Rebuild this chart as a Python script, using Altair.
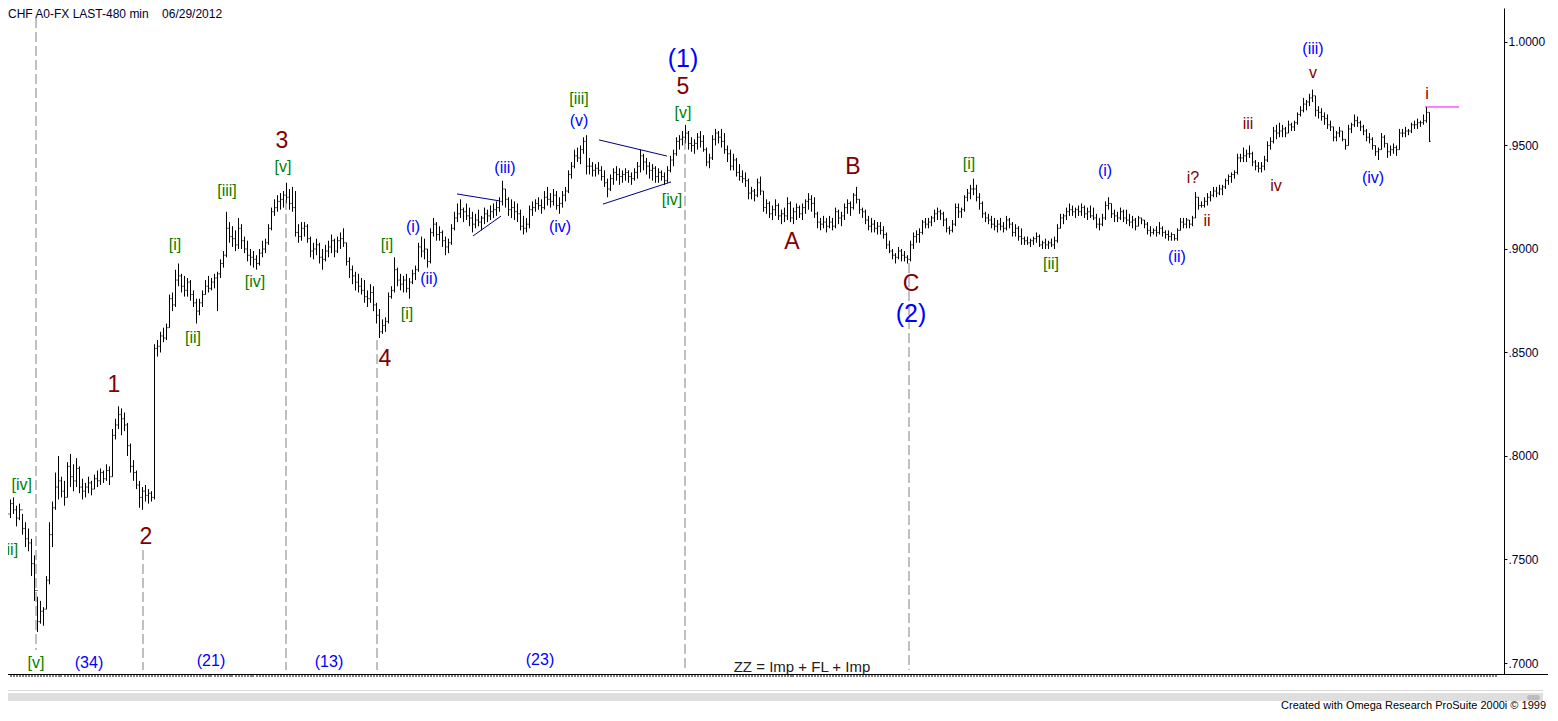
import altair as alt
import pandas as pd

# ---------------- data (prices in pips, 1 pip = 0.0001) ----------------
FIRST_OPEN = 7780
HI = [
    7830, 7810, 7790, 7800, 7760, 7770, 7720, 7680, 7650, 7600,
    7520, 7320, 7300, 7270, 7420, 7680, 7780, 7920, 8000, 7900,
    7880, 7970, 8010, 7960, 7990, 7950, 7890, 7870, 7900, 7880,
    7910, 7930, 7940, 7930, 7960, 7950, 8130, 8180, 8240, 8230,
    8210, 8160, 8060, 7980, 7930, 7880, 7850, 7860, 7840, 7830,
    8540, 8560, 8600, 8620, 8640, 8780, 8790, 8900, 8930, 8880,
    8870, 8860, 8850, 8800, 8760, 8760, 8800, 8850, 8870, 8860,
    8880, 8890, 8950, 8990, 9180, 9130, 9110, 9090, 9150, 9120,
    9060, 9040, 9000, 8990, 8970, 9000, 9040, 9050, 9120, 9200,
    9240, 9260, 9270, 9280, 9320, 9290, 9300, 9280, 9120, 9130,
    9130, 9120, 9060, 9030, 9050, 9030, 9000, 9020, 9040, 9070,
    9050, 9060, 9080, 9100, 9030, 8960, 8920, 8890, 8880, 8860,
    8850, 8800, 8830, 8820, 8740, 8710, 8660, 8670, 8790, 8820,
    8960, 8910, 8880, 8870, 8880, 8860, 8900, 8920, 9030, 9060,
    9050, 9000, 9100, 9150, 9130, 9110, 9090, 9060, 9050, 9120,
    9180, 9220, 9240, 9200, 9220, 9200, 9180, 9170, 9190, 9160,
    9200, 9190, 9210, 9220, 9230, 9250, 9330, 9290, 9250, 9240,
    9230, 9220, 9190, 9160, 9150, 9210, 9230, 9240, 9250, 9240,
    9280, 9300, 9270, 9290, 9280, 9250, 9280, 9300, 9380, 9420,
    9480, 9490, 9500, 9540, 9550, 9440, 9420, 9410, 9420, 9400,
    9380, 9340, 9360, 9390, 9400, 9390, 9380, 9390, 9380, 9370,
    9390, 9420, 9480, 9460, 9440, 9420, 9410, 9400, 9390, 9380,
    9370, 9400, 9450, 9480, 9540, 9550, 9570, 9600, 9570, 9540,
    9530, 9560, 9570, 9550, 9490, 9460, 9550, 9580, 9570, 9580,
    9560, 9500, 9480, 9460, 9440, 9410, 9380, 9370, 9340, 9300,
    9290, 9340, 9350, 9280, 9240, 9230, 9210, 9240, 9220, 9190,
    9200, 9250, 9230, 9200, 9220, 9210, 9220, 9240, 9270, 9260,
    9250, 9180, 9150, 9160, 9150, 9160, 9150, 9200, 9190, 9180,
    9220, 9240, 9230, 9270, 9300, 9240, 9200, 9190, 9160, 9150,
    9140, 9130, 9130, 9110, 9080, 9040, 9000, 8980, 9010, 9000,
    8990, 8970, 9040, 9080, 9090, 9100, 9140, 9150, 9150, 9160,
    9190, 9200, 9190, 9180, 9150, 9110, 9140, 9220, 9220, 9200,
    9260, 9290, 9310, 9340, 9310, 9270, 9230, 9180, 9170, 9160,
    9150, 9140, 9150, 9130, 9160, 9150, 9130, 9120, 9110, 9100,
    9060, 9060, 9050, 9060, 9080, 9070, 9040, 9050, 9040, 9050,
    9060, 9120, 9170, 9170, 9200, 9220, 9210, 9200, 9210, 9220,
    9210, 9200, 9210, 9200, 9170, 9150, 9170, 9230, 9250, 9220,
    9190, 9180, 9200, 9190, 9190, 9170, 9160, 9150, 9160, 9150,
    9140, 9130, 9110, 9100, 9110, 9130, 9110, 9090, 9090, 9080,
    9070, 9100, 9150, 9150, 9150, 9140, 9160, 9275, 9250, 9230,
    9250, 9270, 9280, 9300, 9300, 9310, 9310, 9340, 9360, 9370,
    9380, 9460, 9460, 9490, 9480, 9500, 9470, 9430, 9420, 9420,
    9450, 9520, 9540, 9590, 9600, 9610, 9600, 9590, 9620, 9610,
    9620, 9660, 9690, 9730, 9720, 9750, 9770, 9740, 9690, 9680,
    9660, 9650, 9620, 9590, 9570, 9590, 9570, 9530, 9600, 9610,
    9650, 9640, 9620, 9600, 9580, 9560, 9540, 9500, 9490, 9560,
    9550, 9510, 9500, 9510, 9500, 9580, 9580, 9590, 9580, 9610,
    9620, 9630, 9620, 9650, 9686, 9660,
]
LO = [
    7700, 7690, 7700, 7720, 7660, 7690, 7620, 7560, 7540, 7420,
    7300, 7150, 7190, 7180, 7260, 7380, 7560, 7740, 7790, 7800,
    7760, 7800, 7850, 7830, 7850, 7820, 7790, 7800, 7820, 7810,
    7840, 7850, 7860, 7870, 7880, 7860, 7900, 8080, 8130, 8100,
    8120, 8000, 7920, 7880, 7840, 7750, 7740, 7780, 7770, 7780,
    7790, 8480, 8500, 8550, 8560, 8620, 8700, 8720, 8820, 8790,
    8770, 8770, 8750, 8720, 8640, 8680, 8720, 8780, 8790, 8800,
    8810, 8700, 8860, 8910, 8960, 9030, 9010, 8990, 9000, 9000,
    8980, 8940, 8920, 8910, 8900, 8920, 8960, 8980, 9020, 9090,
    9160, 9180, 9190, 9200, 9220, 9190, 9180, 9060, 9030, 9040,
    9060, 9030, 8960, 8950, 8970, 8930, 8900, 8940, 8960, 8980,
    8960, 8980, 9000, 9010, 8920, 8860, 8830, 8800, 8790, 8780,
    8740, 8720, 8740, 8700, 8640, 8570, 8590, 8600, 8640, 8760,
    8790, 8820, 8800, 8790, 8790, 8760, 8830, 8850, 8890, 8960,
    8950, 8910, 8930, 9060, 9040, 9040, 9010, 8970, 8980, 9020,
    9090, 9130, 9150, 9130, 9140, 9110, 9080, 9100, 9110, 9090,
    9120, 9130, 9140, 9150, 9160, 9180, 9210, 9200, 9160, 9150,
    9140, 9130, 9090, 9070, 9080, 9100, 9160, 9180, 9190, 9170,
    9190, 9210, 9200, 9210, 9190, 9170, 9200, 9230, 9270, 9340,
    9390, 9420, 9410, 9460, 9360, 9360, 9350, 9350, 9360, 9330,
    9300, 9250, 9280, 9310, 9330, 9310, 9320, 9330, 9320, 9310,
    9330, 9340, 9370, 9380, 9360, 9340, 9330, 9320, 9320, 9330,
    9310, 9320, 9370, 9400, 9450, 9480, 9500, 9510, 9480, 9470,
    9460, 9480, 9490, 9470, 9400, 9390, 9430, 9500, 9510, 9490,
    9460, 9420, 9380, 9380, 9350, 9330, 9320, 9300, 9240, 9240,
    9230, 9250, 9260, 9180, 9170, 9150, 9140, 9160, 9140, 9120,
    9130, 9140, 9130, 9120, 9140, 9150, 9140, 9170, 9190, 9180,
    9150, 9100, 9090, 9100, 9080, 9100, 9090, 9100, 9120, 9110,
    9140, 9170, 9160, 9190, 9220, 9170, 9150, 9120, 9090, 9080,
    9080, 9070, 9070, 9050, 9000, 8980, 8950, 8930, 8950, 8940,
    8940, 8930, 8940, 9000, 9030, 9030, 9070, 9100, 9100, 9110,
    9130, 9140, 9140, 9110, 9080, 9070, 9080, 9110, 9150, 9150,
    9180, 9230, 9240, 9260, 9230, 9190, 9150, 9130, 9120, 9100,
    9090, 9080, 9090, 9080, 9090, 9100, 9060, 9060, 9040, 9020,
    9020, 9020, 9010, 9020, 9030, 9010, 9000, 9000, 9000, 9010,
    9000, 9030, 9100, 9120, 9140, 9160, 9160, 9150, 9160, 9160,
    9150, 9140, 9150, 9140, 9100, 9090, 9110, 9140, 9190, 9150,
    9130, 9130, 9140, 9130, 9120, 9110, 9100, 9090, 9110, 9120,
    9100, 9070, 9060, 9070, 9060, 9070, 9060, 9050, 9040, 9040,
    9040, 9040, 9090, 9100, 9100, 9100, 9110, 9150, 9190, 9200,
    9200, 9210, 9230, 9250, 9250, 9260, 9260, 9290, 9310, 9320,
    9340, 9360, 9420, 9420, 9420, 9440, 9400, 9380, 9370, 9370,
    9380, 9420, 9480, 9510, 9530, 9540, 9540, 9540, 9560, 9570,
    9570, 9600, 9640, 9660, 9670, 9690, 9710, 9640, 9630, 9620,
    9600, 9580, 9570, 9520, 9520, 9540, 9520, 9480, 9500, 9560,
    9590, 9590, 9570, 9550, 9520, 9510, 9480, 9450, 9430, 9480,
    9490, 9440, 9450, 9460, 9450, 9480, 9540, 9540, 9550, 9560,
    9580, 9580, 9590, 9600, 9610, 9517,
]
CL = [
    7760, 7720, 7770, 7740, 7700, 7740, 7650, 7600, 7580, 7480,
    7350, 7200, 7250, 7260, 7400, 7620, 7750, 7850, 7880, 7830,
    7800, 7950, 7900, 7880, 7940, 7850, 7830, 7850, 7870, 7840,
    7890, 7880, 7920, 7890, 7930, 7900, 8100, 8150, 8200, 8180,
    8150, 8050, 7950, 7920, 7860, 7800, 7830, 7810, 7820, 7800,
    8520, 8530, 8580, 8570, 8620, 8760, 8730, 8850, 8870, 8820,
    8800, 8840, 8780, 8740, 8700, 8740, 8780, 8820, 8810, 8840,
    8860, 8880, 8930, 8970, 9100, 9060, 9050, 9020, 9100, 9040,
    9000, 8970, 8960, 8950, 8930, 8980, 9000, 9030, 9100, 9180,
    9200, 9230, 9240, 9260, 9250, 9220, 9200, 9080, 9060, 9100,
    9110, 9050, 8990, 9000, 9020, 8960, 8950, 8990, 9010, 9040,
    8990, 9040, 9050, 9030, 8940, 8900, 8870, 8840, 8820, 8800,
    8770, 8760, 8790, 8730, 8680, 8600, 8630, 8650, 8770, 8800,
    8900, 8850, 8830, 8850, 8810, 8840, 8880, 8900, 9010, 8990,
    9000, 8940, 9080, 9120, 9070, 9080, 9040, 9010, 9030, 9100,
    9150, 9170, 9190, 9180, 9160, 9150, 9120, 9140, 9130, 9150,
    9170, 9160, 9180, 9190, 9200, 9230, 9290, 9240, 9190, 9200,
    9180, 9170, 9110, 9100, 9120, 9190, 9200, 9220, 9210, 9200,
    9250, 9240, 9230, 9260, 9210, 9220, 9260, 9280, 9360, 9400,
    9450, 9440, 9480, 9520, 9400, 9400, 9380, 9390, 9380, 9350,
    9320, 9290, 9340, 9370, 9360, 9350, 9360, 9370, 9350, 9340,
    9370, 9400, 9450, 9420, 9400, 9380, 9390, 9350, 9370, 9350,
    9330, 9380, 9430, 9460, 9520, 9530, 9540, 9560, 9510, 9500,
    9510, 9540, 9520, 9480, 9420, 9440, 9530, 9560, 9540, 9520,
    9480, 9460, 9400, 9430, 9370, 9350, 9340, 9330, 9270, 9280,
    9260, 9320, 9280, 9200, 9220, 9170, 9190, 9210, 9160, 9170,
    9160, 9220, 9150, 9180, 9200, 9170, 9200, 9230, 9240, 9220,
    9170, 9130, 9120, 9130, 9110, 9130, 9110, 9180, 9150, 9160,
    9200, 9220, 9200, 9260, 9240, 9190, 9180, 9140, 9110, 9120,
    9100, 9110, 9090, 9070, 9020, 8990, 8970, 8960, 8990, 8970,
    8960, 8950, 9020, 9060, 9070, 9080, 9130, 9120, 9130, 9150,
    9170, 9180, 9170, 9140, 9100, 9090, 9120, 9200, 9180, 9190,
    9250, 9270, 9290, 9290, 9250, 9220, 9170, 9150, 9140, 9120,
    9110, 9120, 9110, 9100, 9140, 9120, 9080, 9100, 9060, 9050,
    9040, 9030, 9040, 9050, 9060, 9020, 9030, 9020, 9030, 9020,
    9040, 9100, 9150, 9160, 9180, 9190, 9180, 9190, 9180, 9200,
    9170, 9180, 9160, 9150, 9120, 9120, 9150, 9210, 9220, 9170,
    9160, 9150, 9180, 9150, 9140, 9130, 9140, 9110, 9150, 9140,
    9120, 9090, 9080, 9090, 9080, 9100, 9080, 9070, 9060, 9070,
    9050, 9090, 9130, 9120, 9140, 9120, 9150, 9250, 9210, 9210,
    9230, 9250, 9260, 9280, 9270, 9290, 9300, 9330, 9350, 9360,
    9370, 9440, 9440, 9450, 9460, 9460, 9420, 9400, 9390, 9400,
    9430, 9500, 9520, 9570, 9560, 9570, 9580, 9560, 9600, 9590,
    9610, 9650, 9670, 9700, 9710, 9730, 9740, 9670, 9660, 9640,
    9630, 9600, 9590, 9540, 9560, 9570, 9530, 9500, 9580, 9600,
    9620, 9610, 9590, 9570, 9540, 9530, 9500, 9470, 9480, 9540,
    9510, 9470, 9480, 9490, 9480, 9560, 9560, 9570, 9570, 9600,
    9600, 9610, 9610, 9620, 9660, 9520,
]

AXIS_TICKS = [0.70, 0.75, 0.80, 0.85, 0.90, 0.95, 1.00]

# wave labels: text, bar position, price, style group
LABEL_TEXT = ["[iv]", "ii]", "[v]", "[i]", "[ii]", "[iii]", "[iv]", "[v]", "[i]", "[i]",
              "[iii]", "[v]", "[iv]", "[i]", "[ii]",
              "(34)", "(21)", "(13)", "(23)", "(i)", "(ii)", "(iii)", "(iv)", "(v)",
              "(i)", "(ii)", "(iii)", "(iv)",
              "(1)", "(2)",
              "1", "2", "3", "4", "5", "A", "B", "C",
              "i?", "ii", "iii", "iv", "v", "i"]
LABEL_BAR = [5.73, 2.6, 10.5, 56.83, 62.83, 74.17, 83.5, 92.83, 127.5, 134.17,
             191.5, 226.17, 222.5, 321.5, 348.83,
             28.17, 68.83, 108.17, 178.5, 136.17, 141.5, 166.83, 185.17, 191.5,
             366.83, 390.83, 436.17, 456.17,
             226.17, 302.17,
             36.5, 47.17, 92.5, 126.83, 226.17, 262.5, 282.83, 302.17,
             396.17, 400.83, 414.5, 423.83, 436.17, 474.17]
LABEL_PRICE = [0.7860, 0.7546, 0.7000, 0.9019, 0.8570, 0.9280, 0.8841, 0.9396, 0.9019, 0.8686,
               0.9725, 0.9657, 0.9237, 0.9411, 0.8928,
               0.7000, 0.7010, 0.7005, 0.7015, 0.9106, 0.8855, 0.9391, 0.9106, 0.9618,
               0.9377, 0.8961, 0.9966, 0.9343,
               0.9918, 0.8686,
               0.8343, 0.7609, 0.9522, 0.8469, 0.9783, 0.9034, 0.9396, 0.8831,
               0.9343, 0.9135, 0.9604, 0.9304, 0.9850, 0.9749]
LABEL_KIND = ["minute"] * 15 + ["minuette"] * 13 + ["primary"] * 2 + ["intermediate"] * 8 + ["subminuette"] * 6

# dashed vertical markers: bar position, top price, bottom price
DASH_BAR = [10.5, 46.17, 93.83, 124.17, 226.83, 301.5]
DASH_TOP = [1.0116, 0.7546, 0.9237, 0.8560, 0.9527, 0.8932]
DASH_BOT = [0.7063, 0.6966, 0.6966, 0.6966, 0.6966, 0.6966]

# triangle trend lines
TL_X1 = [150.83, 156.17, 198.17, 199.5]
TL_X2 = [165.17, 165.5, 220.83, 222.17]
TL_Y1 = [0.9266, 0.9063, 0.9527, 0.9217]
TL_Y2 = [0.9232, 0.9159, 0.9449, 0.9324]

# magenta level
MAG_X1, MAG_X2, MAG_P = 473.5, 484.83, 0.9686

ZZ_TEXT, ZZ_BAR, ZZ_PRICE = "ZZ = Imp + FL  + Imp", 265.83, 0.6955
TITLE = "CHF A0-FX LAST-480 min\u00a0\u00a0\u00a0\u00a006/29/2012"
FOOTER = "Created with Omega Research ProSuite 2000i \u00a9 1999"

# ---------------- frames ----------------
n = len(CL)
opens = [FIRST_OPEN] + CL[:-1]
bars = pd.DataFrame({
    "i": list(range(n)),
    "hi": [v / 10000 for v in HI],
    "lo": [v / 10000 for v in LO],
    "op": [v / 10000 for v in opens],
    "cl": [v / 10000 for v in CL],
})
bars["xo"] = bars["i"] - 0.36
bars["xc"] = bars["i"] + 0.36

STYLE_COLOR = {"minute": "#008000", "minuette": "#0000FF", "primary": "#0000FF",
               "intermediate": "#800000", "subminuette": "#800000"}
STYLE_SIZE = {"minute": 16, "minuette": 16, "primary": 25, "intermediate": 23, "subminuette": 16}
labels = pd.DataFrame({"t": LABEL_TEXT, "i": LABEL_BAR, "p": LABEL_PRICE, "k": LABEL_KIND})
labels["col"] = labels["k"].map(STYLE_COLOR)
labels["fs"] = labels["k"].map(STYLE_SIZE)

dashes = pd.DataFrame({"i": DASH_BAR, "p1": DASH_TOP, "p2": DASH_BOT})
tlines = pd.DataFrame({"x1": TL_X1, "x2": TL_X2, "y1": TL_Y1, "y2": TL_Y2})
mag = pd.DataFrame({"x1": [MAG_X1], "x2": [MAG_X2], "y": [MAG_P]})
zz = pd.DataFrame({"t": [ZZ_TEXT], "i": [ZZ_BAR], "p": [ZZ_PRICE]})
one = pd.DataFrame({"a": [0]})

W, H = 1496, 666
xs = alt.Scale(domain=[3.5 / 3, (W + 3.5) / 3], nice=False, zero=False)
ys = alt.Scale(domain=[0.694686, 1.016425], nice=False, zero=False)

# identical axis definitions in every layer so they merge into one shared axis
x_axis = alt.Axis(values=list(range(1, 498)), labels=False, ticks=True, tickSize=3,
                  tickColor="black", domain=False, grid=False, title=None, translate=0)
y_axis = alt.Axis(orient="right", values=AXIS_TICKS,
                  labelExpr="datum.value >= 1 ? format(datum.value, '.4f') : substring(format(datum.value, '.4f'), 1)",
                  tickSize=3, tickColor="black", domainColor="black", labelColor="#000033",
                  labelFont="Liberation Sans", labelFontSize=12, labelPadding=1,
                  grid=False, title=None)


def X(field):
    return alt.X(field, scale=xs, axis=x_axis)


def Y(field):
    return alt.Y(field, scale=ys, axis=y_axis)


wick = alt.Chart(bars).mark_rule(color="black", strokeWidth=1, clip=True).encode(
    x=X("i:Q"), y=Y("lo:Q"), y2="hi:Q",
)
otick = alt.Chart(bars).mark_rule(color="black", strokeWidth=1, clip=True).encode(
    x=X("xo:Q"), x2="i:Q", y=Y("op:Q"),
)
ctick = alt.Chart(bars).mark_rule(color="black", strokeWidth=1, clip=True).encode(
    x=X("i:Q"), x2="xc:Q", y=Y("cl:Q"),
)
dash = alt.Chart(dashes).mark_rule(color="#808080", strokeWidth=1, strokeDash=[10, 4]).encode(
    x=X("i:Q"), y=Y("p1:Q"), y2="p2:Q",
)
trend = alt.Chart(tlines).mark_rule(color="#000080", strokeWidth=1).encode(
    x=X("x1:Q"), x2="x2:Q", y=Y("y1:Q"), y2="y2:Q",
)
magline = alt.Chart(mag).mark_rule(color="#FF00FF", strokeWidth=1).encode(
    x=X("x1:Q"), x2="x2:Q", y=Y("y:Q"),
)
text = alt.Chart(labels).mark_text(font="Liberation Sans", baseline="middle", align="center").encode(
    x=X("i:Q"), y=Y("p:Q"),
    text="t:N",
    color=alt.Color("col:N", scale=None),
    size=alt.Size("fs:Q", scale=None),
)
zztext = alt.Chart(zz).mark_text(font="Liberation Sans", fontSize=15, baseline="alphabetic",
                                 align="center", color="#202020").encode(
    x=X("i:Q"), y=Y("p:Q"), text="t:N",
)

# chrome: title, bottom rule, scroll band, footer
title = alt.Chart(one).mark_text(text=TITLE, font="Liberation Sans", fontSize=12, align="left",
                                 baseline="top", color="#000033").encode(
    x=alt.value(0), y=alt.value(1))
bottom_line = alt.Chart(one).mark_rule(color="black", strokeWidth=1).encode(
    x=alt.value(0), x2=alt.value(1540), y=alt.value(666.5))
scroll_top = alt.Chart(one).mark_rule(color="#d9d9d9", strokeWidth=1).encode(
    x=alt.value(0), x2=alt.value(1535), y=alt.value(682.5))
scroll_band = alt.Chart(one).mark_rect(color="#dedede").encode(
    x=alt.value(0), x2=alt.value(1535), y=alt.value(685), y2=alt.value(693))
scroll_thumb = alt.Chart(one).mark_rect(color="#bcbcbc", cornerRadius=3).encode(
    x=alt.value(1519), x2=alt.value(1532), y=alt.value(687), y2=alt.value(692))
footer = alt.Chart(one).mark_text(text=FOOTER, font="Liberation Sans", fontSize=11, align="right",
                                  baseline="alphabetic", color="black").encode(
    x=alt.value(1538), y=alt.value(701))

chart = alt.layer(
    wick, otick, ctick, dash, trend, magline, text, zztext,
    title, bottom_line, scroll_top, scroll_band, scroll_thumb, footer,
).properties(
    width=W, height=H,
    padding={"left": 0, "top": 0, "right": 44, "bottom": 38},
    autosize=alt.AutoSizeParams(type="none"),
    background="white",
).configure_view(stroke=None)

chart.save("out.html", embed_options={"renderer": "svg", "actions": False})
